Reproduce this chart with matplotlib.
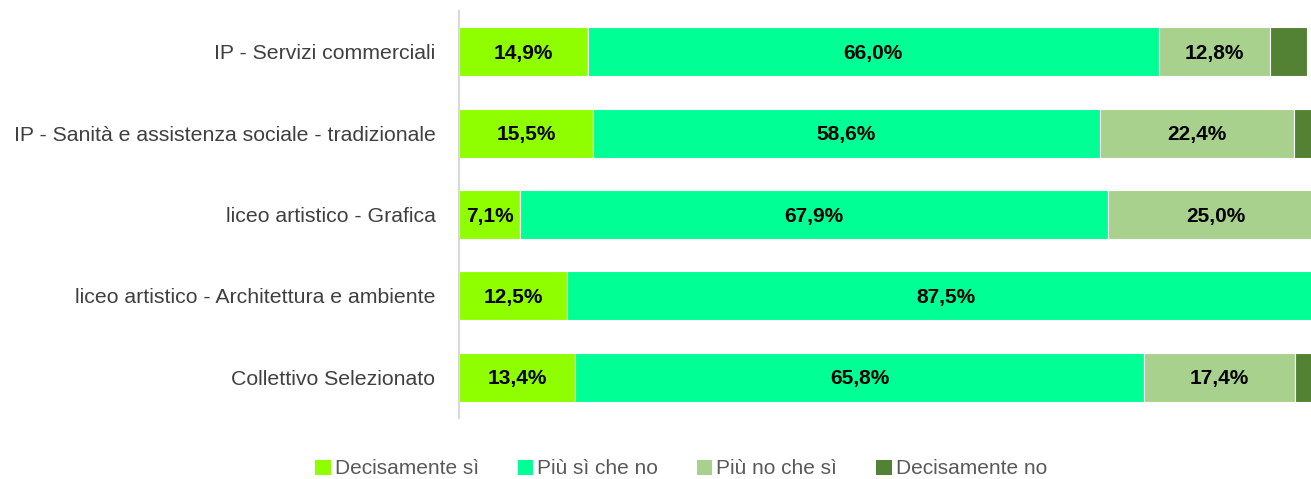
import matplotlib
matplotlib.use("Agg")
import numpy as np
import matplotlib.pyplot as plt
import matplotlib.patches as patches

# dati
categorie = [
    "IP - Servizi commerciali",
    "IP - Sanità e assistenza sociale - tradizionale",
    "liceo artistico - Grafica",
    "liceo artistico - Architettura e ambiente",
    "Collettivo Selezionato",
]
decisamente_si = [14.9, 15.5, 7.1, 12.5, 13.4]
piu_si_che_no = [66.0, 58.6, 67.9, 87.5, 65.8]
piu_no_che_si = [12.8, 22.4, 25.0, 0.0, 17.4]
decisamente_no = [4.3, 3.5, 0.0, 0.0, 3.4]

serie_nomi = ["Decisamente sì", "Più sì che no", "Più no che sì", "Decisamente no"]
colori = ["#8FFF00", "#00FF94", "#A9D18E", "#548235"]
mostra_etichetta = [True, True, True, False]

plt.rcParams['font.family'] = ['Liberation Sans', 'DejaVu Sans']

fig = plt.figure(figsize=(13.11, 4.79), dpi=100)
# l'asse si estende oltre il bordo destro come nell'originale (figura tagliata)
ax = fig.add_axes([459 / 1311, 1 - 418 / 479, 865 / 1311, 407 / 479])

serie = [decisamente_si, piu_si_che_no, piu_no_che_si, decisamente_no]
y = np.arange(len(categorie))
sinistra = np.zeros(len(categorie))
for valori, col, nome, etich in zip(serie, colori, serie_nomi, mostra_etichetta):
    valori = np.array(valori)
    ax.barh(y, valori, left=sinistra, height=0.6, color=col,
            edgecolor='white', linewidth=0.8, label=nome)
    if etich:
        for yi, l, v in zip(y, sinistra, valori):
            if v > 0:
                ax.text(l + v / 2, yi + 0.02, f"{v:.1f}%".replace('.', ','),
                        ha='center', va='center', fontsize=15,
                        fontweight='bold', color='black')
    sinistra = sinistra + valori

ax.set_xlim(0, 100)
ax.set_ylim(len(categorie) - 0.5, -0.5)
ax.set_yticks(y)
ax.set_yticklabels(categorie, fontsize=15.3, color='#404040')
ax.tick_params(axis='y', length=0, pad=17)
ax.set_xticks([])
for lato in ['top', 'right', 'bottom']:
    ax.spines[lato].set_visible(False)
ax.spines['left'].set_color('#D9D9D9')
ax.spines['left'].set_linewidth(1.5)

maniglie = [patches.Rectangle((0, 0), 1, 1, facecolor=c) for c in colori]
fig.legend(maniglie, serie_nomi, loc='center', bbox_to_anchor=(681 / 1311, 1 - 469 / 479),
           ncol=4, frameon=False, fontsize=15, handlelength=0.75, handleheight=0.75,
           handletextpad=0.2, columnspacing=1.85, labelcolor='#595959')

fig.savefig("out.png", dpi=100)
